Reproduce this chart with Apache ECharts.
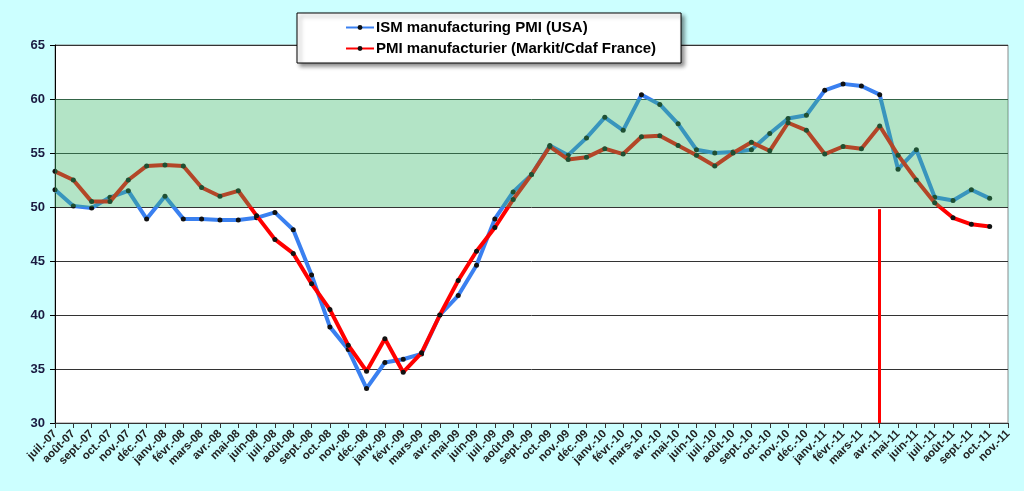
<!DOCTYPE html>
<html>
<head>
<meta charset="utf-8">
<script src="https://cdn.jsdelivr.net/npm/echarts@6/dist/echarts.min.js"></script>
<style>
  html, body { margin: 0; padding: 0; background: #ccffff; }
  #chart { width: 1024px; height: 491px; }
</style>
</head>
<body>
<div id="chart"></div>
<script>
// monthly categories, juil.-07 .. nov.-11
const months = [
  "juil.-07", "août-07", "sept.-07", "oct.-07", "nov.-07", "déc.-07",
  "janv.-08", "févr.-08", "mars-08", "avr.-08", "mai-08", "juin-08",
  "juil.-08", "août-08", "sept.-08", "oct.-08", "nov.-08", "déc.-08",
  "janv.-09", "févr.-09", "mars-09", "avr.-09", "mai-09", "juin-09",
  "juil.-09", "août-09", "sept.-09", "oct.-09", "nov.-09", "déc.-09",
  "janv.-10", "févr.-10", "mars-10", "avr.-10", "mai-10", "juin-10",
  "juil.-10", "août-10", "sept.-10", "oct.-10", "nov.-10", "déc.-10",
  "janv.-11", "févr.-11", "mars-11", "avr.-11", "mai-11", "juin-11",
  "juil.-11", "août-11", "sept.-11", "oct.-11", "nov.-11"
];

const ismUsa = [
  51.6, 50.1, 49.9, 50.9, 51.5, 48.9, 51.0, 48.9, 48.9, 48.8, 48.8, 49.0,
  49.5, 47.9, 43.7, 38.9, 36.8, 33.2, 35.6, 35.9, 36.4, 40.0, 41.8, 44.6,
  48.9, 51.4, 53.0, 55.7, 54.8, 56.4, 58.3, 57.1, 60.4, 59.5, 57.7, 55.3,
  55.0, 55.1, 55.3, 56.8, 58.2, 58.5, 60.8, 61.4, 61.2, 60.4, 53.5, 55.3,
  50.9, 50.6, 51.6, 50.8, null
];

const pmiFrance = [
  53.3, 52.5, 50.5, 50.5, 52.5, 53.8, 53.9, 53.8, 51.8, 51.0, 51.5, 49.2,
  47.0, 45.7, 42.9, 40.5, 37.2, 34.8, 37.8, 34.7, 36.5, 40.0, 43.2, 45.9,
  48.1, 50.7, 53.0, 55.6, 54.4, 54.6, 55.4, 54.9, 56.5, 56.6, 55.7, 54.8,
  53.8, 55.0, 56.0, 55.2, 57.8, 57.1, 54.9, 55.6, 55.4, 57.5, 54.8, 52.5,
  50.4, 49.0, 48.4, 48.2, null
];

const bandRange = [50, 60];
const markerMonth = "avr.-11";
const markerRange = [49.8, 30];

const chart = echarts.init(document.getElementById("chart"));

const option = {
  animation: false,
  backgroundColor: "#ccffff",
  textStyle: { fontFamily: "Liberation Sans, Arial, sans-serif" },
  grid: {
    left: 55,
    right: 16,
    top: 45,
    bottom: 68,
    show: true,
    backgroundColor: "#ffffff",
    borderColor: "#8a8a8a",
    borderWidth: 1
  },
  legend: {
    orient: "vertical",
    left: 297,
    top: 13,
    padding: [7, 25, 7, 48],
    itemGap: 6,
    itemWidth: 28,
    itemHeight: 6,
    backgroundColor: "#ffffff",
    borderColor: "#000000",
    borderWidth: 1,
    shadowColor: "rgba(0,0,0,0.45)",
    shadowBlur: 4,
    shadowOffsetX: 3,
    shadowOffsetY: 3,
    textStyle: { fontSize: 15, fontWeight: "bold", color: "#000", padding: [0, 0, 0, -3] },
    data: ["ISM manufacturing PMI (USA)", "PMI manufacturier (Markit/Cdaf France)"]
  },
  xAxis: {
    type: "category",
    data: months,
    boundaryGap: false,
    axisLine: { lineStyle: { color: "#333", width: 1 } },
    axisTick: { show: true, interval: 0, length: 5, lineStyle: { color: "#333" } },
    axisLabel: {
      interval: 0,
      rotate: 45,
      fontSize: 11.5,
      fontWeight: "bold",
      color: "#222",
      margin: 9
    },
    splitLine: { show: false }
  },
  yAxis: {
    type: "value",
    min: 30,
    max: 65,
    interval: 5,
    axisLine: { show: true, lineStyle: { color: "#000", width: 1 } },
    axisTick: { show: true, inside: false, length: 5, lineStyle: { color: "#000" } },
    axisLabel: { fontSize: 13, fontWeight: "bold", color: "#1a1a40", margin: 10 },
    splitLine: { show: true, lineStyle: { color: "#333", width: 1 } }
  },
  series: [
    {
      name: "ISM manufacturing PMI (USA)",
      type: "line",
      data: ismUsa,
      z: 3,
      symbol: "circle",
      symbolSize: 5,
      showAllSymbol: true,
      lineStyle: { color: "#3a80f0", width: 4 },
      itemStyle: { color: "#111" }
    },
    {
      name: "PMI manufacturier (Markit/Cdaf France)",
      type: "line",
      data: pmiFrance,
      z: 4,
      symbol: "circle",
      symbolSize: 5,
      showAllSymbol: true,
      lineStyle: { color: "#ff0000", width: 4 },
      itemStyle: { color: "#111" },
      markLine: {
        silent: true,
        symbol: "none",
        label: { show: false },
        lineStyle: { color: "#ff0000", width: 3, type: "solid" },
        data: [[
          { coord: [markerMonth, markerRange[0]] },
          { coord: [markerMonth, markerRange[1]] }
        ]]
      }
    },
    {
      name: "band",
      type: "line",
      data: [],
      z: 10,
      silent: true,
      markArea: {
        silent: true,
        z: 10,
        itemStyle: { color: "rgba(55,184,105,0.38)" },
        data: [[{ yAxis: bandRange[0] }, { yAxis: bandRange[1] }]]
      }
    }
  ]
};

chart.setOption(option);
</script>
</body>
</html>
